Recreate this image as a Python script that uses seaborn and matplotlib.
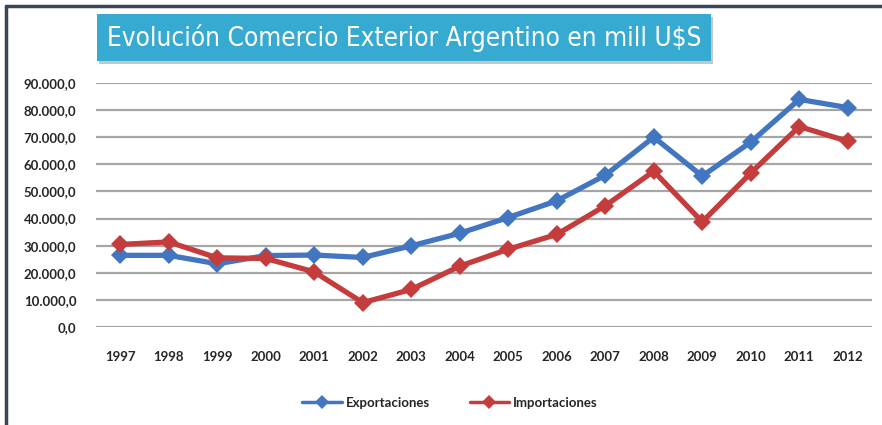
import numpy as np
import pandas as pd
import matplotlib
matplotlib.use("Agg")
import matplotlib.pyplot as plt
import seaborn as sns
from matplotlib.patches import Rectangle
from matplotlib.lines import Line2D
from matplotlib.ticker import FuncFormatter
from matplotlib import font_manager

# Data (mill U$S)
years = [1997, 1998, 1999, 2000, 2001, 2002, 2003, 2004,
         2005, 2006, 2007, 2008, 2009, 2010, 2011, 2012]
exportaciones = [26431, 26434, 23309, 26341, 26543, 25651, 29939, 34576,
                 40387, 46546, 55980, 70019, 55672, 68187, 83950, 80927]
importaciones = [30450, 31377, 25508, 25280, 20320, 8990, 13851, 22445,
                 28687, 34154, 44707, 57462, 38786, 56793, 73937, 68508]
series_names = ["Exportaciones", "Importaciones"]
colors = ["#4376c0", "#c43c3c"]

df = pd.DataFrame({
    "year": [str(y) for y in years] * 2,
    "valor": exportaciones + importaciones,
    "serie": [series_names[0]] * len(years) + [series_names[1]] * len(years),
})

sns.set_style("white")
plt.rcParams["font.family"] = ["Lato", "DejaVu Sans"]

fig = plt.figure(figsize=(8.82, 4.25), dpi=100)
ax = fig.add_axes([96 / 882, 98 / 425, 776 / 882, 244 / 425])

sns.lineplot(data=df, x="year", y="valor", hue="serie", palette=colors,
             style="serie", markers=["D", "D"], dashes=False,
             linewidth=3.8, markersize=9.5, markeredgewidth=0, sort=False,
             ax=ax, legend=True)

ax.set_xlim(-0.5, len(years) - 0.5)
ax.set_ylim(0, 90000)
ax.set_yticks(np.arange(0, 90001, 10000))
ax.yaxis.set_major_formatter(FuncFormatter(
    lambda v, p: f"{int(v):,}".replace(",", ".") + ",0"))
ax.yaxis.grid(True, color="#a6a6a6", linewidth=1.6)
ax.set_axisbelow(True)
for s in ax.spines.values():
    s.set_visible(False)
ax.tick_params(axis="y", length=0, pad=14, labelsize=9.5, labelcolor="#262626")
ax.tick_params(axis="x", length=0, pad=17, labelsize=9.5, labelcolor="#262626")
for lbl in ax.get_xticklabels() + ax.get_yticklabels():
    lbl.set_fontweight("bold")
ax.set_xlabel("")
ax.set_ylabel("")

leg = ax.legend(loc="center", bbox_to_anchor=(450 / 882, 22 / 425),
                bbox_transform=fig.transFigure, ncol=2, frameon=False,
                handlelength=3, columnspacing=3, handletextpad=0.3,
                prop={"weight": "bold", "size": 9.5})
for t in leg.get_texts():
    t.set_color("#262626")
for h in leg.legend_handles:
    h.set_linewidth(2.5)
    h.set_markersize(7)

# title box
fig.patches.append(Rectangle((99 / 882, 1 - 64 / 425), 614 / 882, 47 / 425,
                             transform=fig.transFigure, facecolor="#9aa3a8",
                             edgecolor="none", alpha=0.6, zorder=1))
fig.patches.append(Rectangle((97 / 882, 1 - 61 / 425), 614 / 882, 47 / 425,
                             transform=fig.transFigure, facecolor="#36aad1",
                             edgecolor="none", zorder=2))
title = fig.text(404 / 882, 1 - 38 / 425,
                 "Evolución Comercio Exterior Argentino en mill U$S",
                 ha="center", va="center", color="white", fontsize=21,
                 family="DejaVu Sans", stretch="condensed", zorder=3)

# shrink the title if no condensed face is available so it fits the box
fig.canvas.draw()
w = title.get_window_extent().width
if w > 596:
    title.set_fontsize(21 * 596 / w)

# outer frame
fig.add_artist(Line2D([6 / 882, 1.0], [1 - 6 / 425, 1 - 6 / 425],
                      transform=fig.transFigure, color="#3b4558", linewidth=2.5))
fig.add_artist(Line2D([6 / 882, 6 / 882], [0, 1 - 6 / 425],
                      transform=fig.transFigure, color="#3b4558", linewidth=2.5))

fig.savefig("out.png", dpi=100)
